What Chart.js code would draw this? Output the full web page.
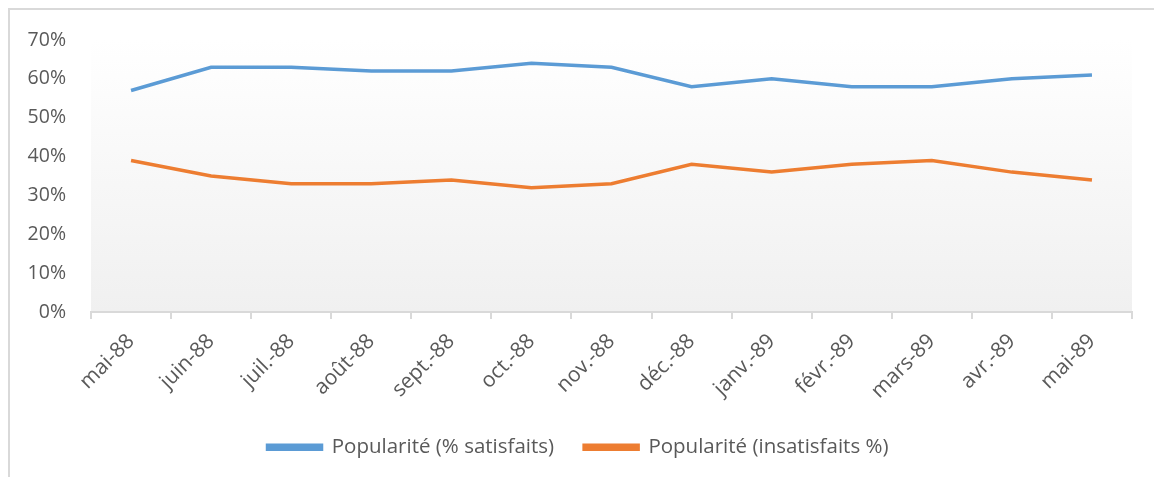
<!DOCTYPE html>
<html>
<head>
<meta charset="utf-8">
<script src="https://cdn.jsdelivr.net/npm/chart.js@4.4.1/dist/chart.umd.min.js"></script>
<style>
  html, body { margin: 0; padding: 0; background: #fff; }
  #wrap { position: relative; width: 1154px; height: 477px; overflow: hidden; }
  #frame {
    position: absolute; left: 8px; top: 8px; width: 1200px; height: 520px;
    border-left: 2px solid #d9d9d9; border-top: 2px solid #d9d9d9;
  }
  canvas { position: absolute; left: 0; top: 0; }
</style>
</head>
<body>
<div id="wrap">
  <div id="frame"></div>
  <canvas id="chart" width="1154" height="477"></canvas>
</div>
<script>
// ---- data ----
const months = ["mai-88", "juin-88", "juil.-88", "août-88", "sept.-88", "oct.-88", "nov.-88",
  "déc.-88", "janv.-89", "févr.-89", "mars-89", "avr.-89", "mai-89"];
const satisfaits = [57, 63, 63, 62, 62, 64, 63, 58, 60, 58, 58, 60, 61];
const insatisfaits = [39, 35, 33, 33, 34, 32, 33, 38, 36, 38, 39, 36, 34];
const yTicks = [0, 10, 20, 30, 40, 50, 60, 70];

const textColor = "#595959";
const FONT = "'Open Sans', 'Liberation Sans', sans-serif";

// plot area background: white fading to light grey
const plotBg = {
  id: "plotBg",
  beforeDraw(chart) {
    const { ctx, chartArea: a } = chart;
    const g = ctx.createLinearGradient(0, a.top, 0, a.bottom);
    g.addColorStop(0, "#ffffff");
    g.addColorStop(1, "#f0f0f0");
    ctx.save();
    ctx.fillStyle = g;
    ctx.fillRect(a.left, a.top, a.right - a.left, a.bottom - a.top);
    ctx.restore();
  }
};

new Chart(document.getElementById("chart"), {
  type: "line",
  data: {
    labels: months,
    datasets: [
      {
        label: "Popularité (% satisfaits)",
        data: satisfaits,
        borderColor: "#5b9bd5",
        backgroundColor: "#5b9bd5",
        borderWidth: 3.5,
        pointRadius: 0,
        tension: 0
      },
      {
        label: "Popularité (insatisfaits %)",
        data: insatisfaits,
        borderColor: "#ed7d31",
        backgroundColor: "#ed7d31",
        borderWidth: 3.5,
        pointRadius: 0,
        tension: 0
      }
    ]
  },
  options: {
    responsive: false,
    animation: false,
    layout: { padding: { left: 24, right: 22, top: 40, bottom: 9.5 } },
    plugins: {
      tooltip: { enabled: false },
      legend: {
        position: "bottom",
        labels: {
          color: textColor,
          font: { family: FONT, size: 20.5 },
          boxWidth: 54,
          boxHeight: 4,
          padding: 30
        }
      }
    },
    scales: {
      x: {
        offset: true,
        grid: {
          offset: true,
          drawOnChartArea: false,
          drawTicks: true,
          tickLength: 7,
          color: "#d9d9d9",
          lineWidth: 2
        },
        border: { display: true, color: "#d9d9d9", width: 2 },
        ticks: {
          color: textColor,
          font: { family: FONT, size: 21 },
          maxRotation: 45,
          minRotation: 45,
          autoSkip: false,
          padding: 10
        },
        afterFit(s) { s.height = 95; }
      },
      y: {
        min: 0,
        max: 70,
        grid: { display: false },
        border: { display: false },
        afterBuildTicks(s) { s.ticks = yTicks.map(v => ({ value: v })); },
        ticks: {
          color: textColor,
          font: { family: FONT, size: 19.5 },
          padding: 17,
          callback: v => v + "%"
        },
        afterFit(s) { s.width = 67; }
      }
    }
  },
  plugins: [plotBg]
});
</script>
</body>
</html>
